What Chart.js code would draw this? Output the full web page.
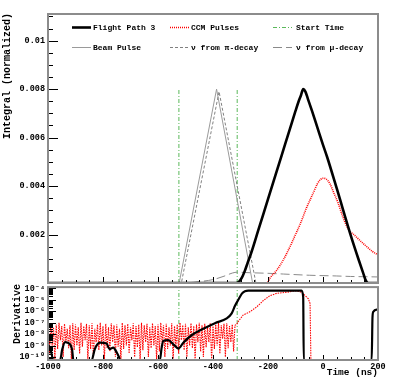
<!DOCTYPE html>
<html><head><meta charset="utf-8">
<script src="https://cdn.jsdelivr.net/npm/chart.js@4/dist/chart.umd.min.js"></script>
<style>
html,body{margin:0;padding:0;background:#fff;width:399px;height:379px;overflow:hidden}
#a{position:absolute;left:0;top:0}
#b{position:absolute;left:0;top:279px}
</style></head><body>
<canvas id="a" width="399" height="300"></canvas>
<canvas id="b" width="399" height="100"></canvas>
<script>
// ---------------- DATA ----------------
const FLOOR = 5.5e-11;           // derivative values at/below the axis floor
const timeMin = -1000, timeMax = 200;

const flightTime  = [-1000, -320, -312, -305, -295, -285, -275, -260, -235, -200, -150, -120, -100, -90, -80, -72, -64, -55, -40, -20, 0, 15, 50, 100, 130, 145, 155, 165, 200];
const flightValue = [0, 0, 0.00001, 0.00006, 0.00022, 0.00048, 0.0008, 0.00128, 0.00219, 0.00346, 0.00528, 0.00637, 0.0071, 0.00745, 0.00775, 0.0080, 0.0079, 0.0076, 0.0071, 0.0064, 0.0057, 0.0052, 0.0039, 0.0020, 0.00095, 0.00045, 0.00012, 0, 0];

const ccmTime  = [-1000, -210, -200, -193, -170, -144, -120, -96, -84, -60, -36, -20, -10, 0, 10, 25, 40, 55, 70, 86, 100, 110, 130, 159, 180, 200];
const ccmValue = [0, 0, 0.00005, 0.0002, 0.0005, 0.00096, 0.0015, 0.0021, 0.0024, 0.0031, 0.0037, 0.0041, 0.00426, 0.00432, 0.0043, 0.0041, 0.0037, 0.0033, 0.0028, 0.00235, 0.0021, 0.00202, 0.0018, 0.0015, 0.0013, 0.00116];

const beamTime  = [-1000, -523, -387, -256, 200];
const beamValue = [0, 0, 0.0080, 0, 0];

const piTime  = [-1000, -515, -378, -244, 200];
const piValue = [0, 0, 0.0079, 0, 0];

const muTime  = [-1000, -525, -470, -440, -400, -360, -330, -310, -280, -200, -144, -50, 50, 100, 200];
const muValue = [0, 0, 0.00003, 0.00007, 0.00014, 0.00028, 0.00041, 0.00045, 0.00043, 0.0004, 0.00037, 0.00032, 0.00029, 0.00027, 0.00025];

const startTimes = [-524, -312];
const startTop = 0.008;

const derivFlightTime  = [-1000, -990, -981, -956, -948, -938, -920, -912, -908, -841, -830, -811, -787, -776, -763, -750, -742, -738, -593, -587, -581, -563, -544, -526, -508, -478, -441, -393, -350, -332, -320, -308, -295, -284, -272, -200, -100, -78, -72, -70, 177, 180, 183, 195, 200];
const derivFlightValue = [1.3e-9, 4e-10, FLOOR, FLOOR, 5e-10, 2e-9, 1.3e-9, 4e-10, FLOOR, FLOOR, 4.8e-10, 1.8e-9, 1.5e-9, 4.8e-10, 6.6e-10, 2.5e-10, 1e-10, FLOOR, FLOOR, 6e-10, 2.5e-9, 3e-9, 1.3e-9, 5.5e-10, 1.8e-9, 8e-9, 2.5e-8, 9e-8, 2.4e-7, 6.5e-7, 3e-6, 1e-5, 3.5e-5, 5.5e-5, 6.3e-5, 6.3e-5, 6.3e-5, 6.3e-5, 1.7e-5, FLOOR, FLOOR, 3e-7, 9e-7, 1.4e-6, 1.4e-6];

// CCM derivative: noisy part, one reading every 5 ns from -1000 to -320
const ccmNoiseStart = -1000, ccmNoiseStep = 5;
const derivCcmNoise = [
  6e-8, 2e-10, 9e-8, 1e-9, 4e-8, FLOOR, 7e-8, 5e-10, 1e-7, 3e-9,
  5e-8, 1e-10, 8e-8, 2e-9, 3e-8, 6e-10, 6e-8, FLOOR, 9e-8, 4e-10,
  7e-8, 1e-9, 4e-8, 2e-10, 1e-7, 8e-10, 5e-8, 3e-9, 8e-8, FLOOR,
  6e-8, 5e-10, 9e-8, 1e-10, 3e-8, 2e-9, 7e-8, 4e-10, 1e-7, 1e-9,
  5e-8, FLOOR, 8e-8, 6e-10, 4e-8, 3e-10, 9e-8, 2e-9, 6e-8, 1e-10,
  7e-8, 8e-10, 3e-8, FLOOR, 1e-7, 5e-10, 6e-8, 1e-9, 8e-8, 2e-10,
  4e-8, 3e-9, 9e-8, 1e-10, 5e-8, 7e-10, 7e-8, FLOOR, 1e-7, 4e-10,
  6e-8, 2e-9, 8e-8, 1e-10, 4e-8, 6e-10, 9e-8, 1e-9, 5e-8, FLOOR,
  7e-8, 3e-10, 1e-7, 2e-9, 6e-8, 1e-10, 8e-8, 5e-10, 4e-8, 1e-9,
  9e-8, FLOOR, 5e-8, 8e-10, 7e-8, 2e-10, 1e-7, 3e-9, 6e-8, 4e-10,
  8e-8, 1e-10, 4e-8, 1e-9, 9e-8, 6e-10, 5e-8, FLOOR, 7e-8, 2e-9,
  1e-7, 3e-10, 6e-8, 1e-10, 8e-8, 7e-10, 4e-8, 2e-9, 9e-8, FLOOR,
  5e-8, 5e-10, 7e-8, 1e-9, 1e-7, 2e-10, 6e-8, 4e-9, 8e-8, 1e-10,
  9e-8, 6e-10, 5e-8, 2e-9, 7e-8, 3e-10, 6e-8
];
// CCM derivative: smooth part after the noise
const derivCcmTime  = [-314, -308, -290, -266, -241, -217, -193, -168, -132, -96, -78, -65, -53, -47, -44, 200];
const derivCcmValue = [7e-8, 1.3e-7, 4.7e-7, 8.9e-7, 2.4e-6, 8.7e-6, 2.3e-5, 3.7e-5, 4.6e-5, 6.3e-5, 4.6e-5, 2.3e-5, 1.2e-5, 4.6e-6, FLOOR, FLOOR];

const yTickValues = [0.002, 0.004, 0.006, 0.008, 0.01];
const yTickLabels = ['0.002', '0.004', '0.006', '0.008', '0.01'];
const logTickValues = [1e-10, 1e-9, 1e-8, 1e-7, 1e-6, 1e-5, 1e-4];
const logTickLabels = ['10\u207B\u00B9\u2070', '10\u207B\u2079', '10\u207B\u2078', '10\u207B\u2077', '10\u207B\u2076', '10\u207B\u2075', '10\u207B\u2074'];
const xTickValues = [-1000, -800, -600, -400, -200, 0, 200];
const xTickLabels = ['-1000', '-800', '-600', '-400', '-200', '0', '200'];

// ---------------- STYLE ----------------
const MONO = "'Liberation Mono', 'DejaVu Sans Mono', monospace";
const GREEN = 'rgb(90,185,90)';
const pts = (xs, ys) => xs.map((x, i) => ({x: x, y: ys[i]}));
const ccmDerivPoints = derivCcmNoise.map((v, i) => ({x: ccmNoiseStart + i * ccmNoiseStep, y: v}))
  .concat(pts(derivCcmTime, derivCcmValue));

function rangeVals(a, b, step) { const out = []; for (let v = a; v <= b + 1e-12; v += step) out.push(v); return out; }

function frameTicks(chart, cfg) {
  const ctx = chart.ctx, a = chart.chartArea, xs = chart.scales.x, ys = chart.scales.y;
  ctx.save();
  ctx.strokeStyle = '#000'; ctx.lineWidth = 1;
  ctx.beginPath();
  const yt = (vals, len) => vals.forEach(v => {
    const p = Math.round(ys.getPixelForValue(v)) + 0.5;
    if (p < a.top + 1 || p > a.bottom - 1) return;
    ctx.moveTo(a.left, p); ctx.lineTo(a.left + len, p);
  });
  const xt = (vals, len) => vals.forEach(v => {
    const p = Math.round(xs.getPixelForValue(v)) + 0.5;
    if (p < a.left + 1 || p > a.right - 1) return;
    ctx.moveTo(p, a.bottom); ctx.lineTo(p, a.bottom - len);
  });
  yt(cfg.yMinor, cfg.yMinorLen); yt(cfg.yMajor, cfg.yMajorLen);
  xt(rangeVals(timeMin, timeMax, 50), cfg.xMinorLen); xt(rangeVals(timeMin, timeMax, 200), cfg.xMajorLen);
  ctx.stroke();
  ctx.strokeStyle = '#8c8c8c'; ctx.lineWidth = 2;
  ctx.strokeRect(a.left, a.top, a.right - a.left, a.bottom - a.top);
  ctx.restore();
}

function drawTitleV(ctx, text, x, yTop, size) {
  ctx.save();
  ctx.translate(x, yTop);
  ctx.rotate(-Math.PI / 2);
  ctx.font = 'bold ' + size + 'px ' + MONO;
  ctx.fillStyle = '#000'; ctx.textAlign = 'right'; ctx.textBaseline = 'middle';
  ctx.fillText(text, 0, 0);
  ctx.restore();
}

const topPlugin = {
  id: 'topDecor',
  afterDraw(chart) {
    frameTicks(chart, {
      yMajor: rangeVals(0, 0.011, 0.002), yMinor: rangeVals(0, 0.011, 0.0005),
      yMajorLen: 10, yMinorLen: 5, xMajorLen: 6, xMinorLen: 3
    });
    const ctx = chart.ctx;
    drawTitleV(ctx, 'Integral (normalized)', 7, 13, 10);
    // legend
    const colLine = [72, 170, 273], colText = [93, 191, 296], rowY = [27, 47];
    ctx.save();
    ctx.font = 'bold 8px ' + MONO; ctx.textBaseline = 'middle'; ctx.fillStyle = '#000';
    chart.data.datasets.filter(d => d.legendEntry).forEach((d, i) => {
      const c = i % 3, r = Math.floor(i / 3), y = rowY[r] + 0.5;
      ctx.strokeStyle = d.borderColor; ctx.lineWidth = d.borderWidth;
      ctx.setLineDash(d.borderDash || []);
      ctx.beginPath(); ctx.moveTo(colLine[c], y); ctx.lineTo(colLine[c] + 19, y); ctx.stroke();
      ctx.setLineDash([]);
      ctx.fillText(d.label, colText[c], y);
    });
    ctx.restore();
  }
};

const bottomPlugin = {
  id: 'botDecor',
  afterDraw(chart) {
    const minor = [], major = [];
    for (let e = -11; e <= -4; e++) for (let m = 1; m <= 9; m++) { const v = m * Math.pow(10, e); (m === 1 ? major : minor).push(v); }
    frameTicks(chart, { yMajor: major, yMinor: minor, yMajorLen: 8, yMinorLen: 5, xMajorLen: 5, xMinorLen: 3 });
    const ctx = chart.ctx;
    drawTitleV(ctx, 'Derivative', 17, 5, 10);
    ctx.save();
    ctx.font = 'bold 9.5px ' + MONO; ctx.fillStyle = '#000';
    ctx.textAlign = 'right'; ctx.textBaseline = 'middle';
    ctx.fillText('Time (ns)', chart.chartArea.right, 94);
    ctx.restore();
  }
};

const tickFont = {family: MONO, size: 8.5, weight: 'bold'};

const commonOpts = {
  responsive: false, animation: false, events: [],
  plugins: {legend: {display: false}, tooltip: {enabled: false}},
  elements: {point: {radius: 0}, line: {fill: false}}
};

// ---------------- TOP CHART ----------------
const lineDs = (label, xs, ys, color, width, dash, order, extra) => Object.assign({
  label: label, data: pts(xs, ys), borderColor: color, borderWidth: width, borderDash: dash,
  pointRadius: 0, fill: false, order: order, legendEntry: true
}, extra || {});

new Chart(document.getElementById('a'), {
  type: 'line',
  data: {datasets: [
    lineDs('Flight Path 3', flightTime, flightValue, '#000', 2.6, [], 0, {cubicInterpolationMode: 'monotone'}),
    lineDs('CCM Pulses', ccmTime, ccmValue, 'rgb(255,0,0)', 1.6, [1, 1], 1, {cubicInterpolationMode: 'monotone'}),
    lineDs('Start Time', [startTimes[0], startTimes[0]], [0, startTop], GREEN, 1, [4, 2, 1, 2], 3),
    lineDs('Beam Pulse', beamTime, beamValue, '#9a9a9a', 1, [], 2),
    lineDs('\u03BD from \u03C0-decay', piTime, piValue, '#808080', 1, [3, 2], 2),
    lineDs('\u03BD from \u03BC-decay', muTime, muValue, '#8a8a8a', 1, [9, 4], 2, {cubicInterpolationMode: 'monotone'}),
    lineDs('Start Time', [startTimes[1], startTimes[1]], [0, startTop], GREEN, 1, [4, 2, 1, 2], 3, {legendEntry: false})
  ]},
  options: Object.assign({}, commonOpts, {
    layout: {padding: {left: 0, right: 21, top: 14, bottom: 0}},
    scales: {
      x: {type: 'linear', min: timeMin, max: timeMax,
          grid: {display: false}, border: {display: false}, ticks: {display: false},
          afterFit: s => { s.height = 17; }},
      y: {type: 'linear', min: 0, max: 0.0111,
          grid: {display: false, drawTicks: false}, border: {display: false},
          afterBuildTicks: s => { s.ticks = yTickValues.map(v => ({value: v})); },
          ticks: {padding: 3, color: '#000', font: tickFont,
                  callback: (v) => yTickLabels[yTickValues.indexOf(v)] || ''},
          afterFit: s => { s.width = 48; }}
    }
  }),
  plugins: [topPlugin]
});

// ---------------- BOTTOM CHART ----------------
const LOGMAX = 1.29e-4;
new Chart(document.getElementById('b'), {
  type: 'line',
  data: {datasets: [
    {label: 'Flight Path 3', data: pts(derivFlightTime, derivFlightValue), borderColor: '#000', borderWidth: 2.2, pointRadius: 0, fill: false, order: 0, cubicInterpolationMode: 'monotone'},
    {label: 'CCM Pulses', data: ccmDerivPoints, borderColor: 'rgb(255,0,0)', borderWidth: 1.1, borderDash: [1.5, 1], pointRadius: 0, fill: false, order: 1},
    {label: 'Start Time', data: pts([startTimes[0], startTimes[0]], [FLOOR, LOGMAX]), borderColor: GREEN, borderWidth: 1, borderDash: [4, 2, 1, 2], pointRadius: 0, fill: false, order: 2},
    {label: 'Start Time', data: pts([startTimes[1], startTimes[1]], [FLOOR, LOGMAX]), borderColor: GREEN, borderWidth: 1, borderDash: [4, 2, 1, 2], pointRadius: 0, fill: false, order: 2}
  ]},
  options: Object.assign({}, commonOpts, {
    layout: {padding: {left: 0, right: 21, top: 7, bottom: 0}},
    scales: {
      x: {type: 'linear', min: timeMin, max: timeMax,
          grid: {display: false, drawTicks: false}, border: {display: false},
          afterBuildTicks: s => { s.ticks = xTickValues.map(v => ({value: v})); },
          ticks: {padding: 2, color: '#000', font: tickFont, maxRotation: 0, autoSkip: false,
                  callback: (v) => xTickLabels[xTickValues.indexOf(v)]},
          afterFit: s => { s.height = 19; }},
      y: {type: 'logarithmic', min: FLOOR, max: LOGMAX,
          grid: {display: false, drawTicks: false}, border: {display: false},
          afterBuildTicks: s => { s.ticks = logTickValues.map(v => ({value: v})); },
          ticks: {padding: 3, color: '#000', font: tickFont, autoSkip: false,
                  callback: (v) => { const i = logTickValues.findIndex(t => Math.abs(t - v) / t < 1e-6); return i >= 0 ? logTickLabels[i] : ''; }},
          afterFit: s => { s.width = 48; }}
    }
  }),
  plugins: [bottomPlugin]
});
</script>
</body></html>
